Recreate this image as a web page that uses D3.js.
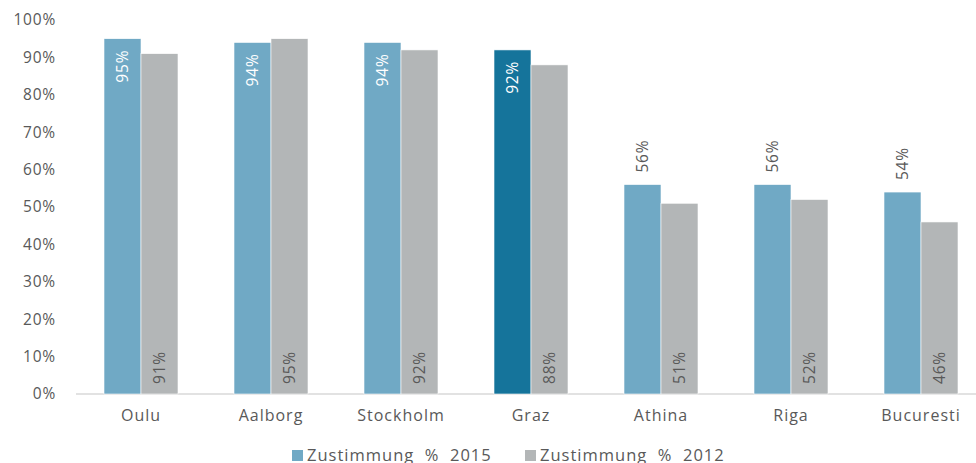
<!DOCTYPE html>
<html>
<head>
<meta charset="utf-8">
<script src="https://cdn.jsdelivr.net/npm/d3@7"></script>
<style>
  body { margin: 0; background: #fff; }
  svg { display: block; font-family: 'Open Sans', sans-serif; }
</style>
</head>
<body>
<svg id="chart" width="976" height="463"></svg>
<script>
const cities = ['Oulu', 'Aalborg', 'Stockholm', 'Graz', 'Athina', 'Riga', 'Bucuresti'];
const values2015 = [95, 94, 94, 92, 56, 56, 54];
const values2012 = [91, 95, 92, 88, 51, 52, 46];
const yTicks = [0, 10, 20, 30, 40, 50, 60, 70, 80, 90, 100];
const seriesNames = ['Zustimmung  %  2015', 'Zustimmung  %  2012'];
const highlightCity = 'Graz';

const colBlue = '#70a9c5';
const colDark = '#15749b';
const colGray = '#b3b6b7';
const textCol = '#595959';

const svg = d3.select('#chart');

const xScale = d3.scaleBand()
    .domain(cities)
    .range([76, 986]);

const yScale = d3.scaleLinear()
    .domain([0, 100])
    .range([394, 20]);

const barW = 37;

// axis line
svg.append('line')
    .attr('x1', 76)
    .attr('x2', 976)
    .attr('y1', yScale(0))
    .attr('y2', yScale(0))
    .style('stroke', '#d9d9d9')
    .style('stroke-width', 1.5);

// y tick labels
svg.selectAll('.ytick')
    .data(yTicks)
    .enter()
    .append('text')
    .attr('class', 'ytick')
    .attr('x', 56)
    .attr('y', d => yScale(d))
    .attr('dy', '0.35em')
    .attr('text-anchor', 'end')
    .style('font-size', '15.5px')
    .style('letter-spacing', '0.8px')
    .style('fill', textCol)
    .text(d => d + '%');

// category labels
svg.selectAll('.xlabel')
    .data(cities)
    .enter()
    .append('text')
    .attr('class', 'xlabel')
    .attr('x', d => xScale(d) + xScale.bandwidth() / 2)
    .attr('y', 421)
    .attr('text-anchor', 'middle')
    .style('font-size', '16px')
    .style('letter-spacing', '1px')
    .style('fill', textCol)
    .text(d => d);

const data = cities.map((c, i) => ({ city: c, v15: values2015[i], v12: values2012[i] }));
const center = d => xScale(d.city) + xScale.bandwidth() / 2;

// 2015 bars
svg.selectAll('.bar15')
    .data(data)
    .enter()
    .append('rect')
    .attr('class', 'bar15')
    .attr('x', d => center(d) - barW)
    .attr('y', d => yScale(d.v15))
    .attr('width', barW)
    .attr('height', d => yScale(0) - yScale(d.v15))
    .style('fill', d => d.city === highlightCity ? colDark : colBlue)
    .style('stroke', '#ffffff')
    .style('stroke-width', 0.6);

// 2012 bars
svg.selectAll('.bar12')
    .data(data)
    .enter()
    .append('rect')
    .attr('class', 'bar12')
    .attr('x', d => center(d))
    .attr('y', d => yScale(d.v12))
    .attr('width', barW)
    .attr('height', d => yScale(0) - yScale(d.v12))
    .style('fill', colGray)
    .style('stroke', '#ffffff')
    .style('stroke-width', 0.6);

// 2015 labels: inside top when tall, above when shorter
svg.selectAll('.lab15')
    .data(data)
    .enter()
    .append('text')
    .attr('class', 'lab15')
    .attr('transform', d => {
        const x = center(d) - barW / 2;
        const y = d.v15 > 80 ? yScale(d.v15) + 11 : yScale(d.v15) - 12;
        return `translate(${x},${y}) rotate(-90)`;
    })
    .attr('dy', '0.35em')
    .attr('text-anchor', d => d.v15 > 80 ? 'end' : 'start')
    .style('font-size', '15.5px')
    .style('letter-spacing', '0.8px')
    .style('fill', d => d.v15 > 80 ? '#ffffff' : textCol)
    .text(d => d.v15 + '%');

// 2012 labels at bar base
svg.selectAll('.lab12')
    .data(data)
    .enter()
    .append('text')
    .attr('class', 'lab12')
    .attr('transform', d => `translate(${center(d) + barW / 2},${yScale(0) - 10}) rotate(-90)`)
    .attr('dy', '0.35em')
    .attr('text-anchor', 'start')
    .style('font-size', '15.5px')
    .style('letter-spacing', '0.8px')
    .style('fill', textCol)
    .text(d => d.v12 + '%');

// legend
const legend = svg.append('g');
const legendX = [292, 525];
[colBlue, colGray].forEach((c, i) => {
    legend.append('rect')
        .attr('x', legendX[i])
        .attr('y', 450)
        .attr('width', 11)
        .attr('height', 11)
        .style('fill', c);
    legend.append('text')
        .attr('x', legendX[i] + 15)
        .attr('y', 461)
        .style('font-size', '16.5px')
        .style('letter-spacing', '1px')
        .style('fill', textCol)
        .attr('xml:space', 'preserve')
        .text(seriesNames[i]);
});
</script>
</body>
</html>
